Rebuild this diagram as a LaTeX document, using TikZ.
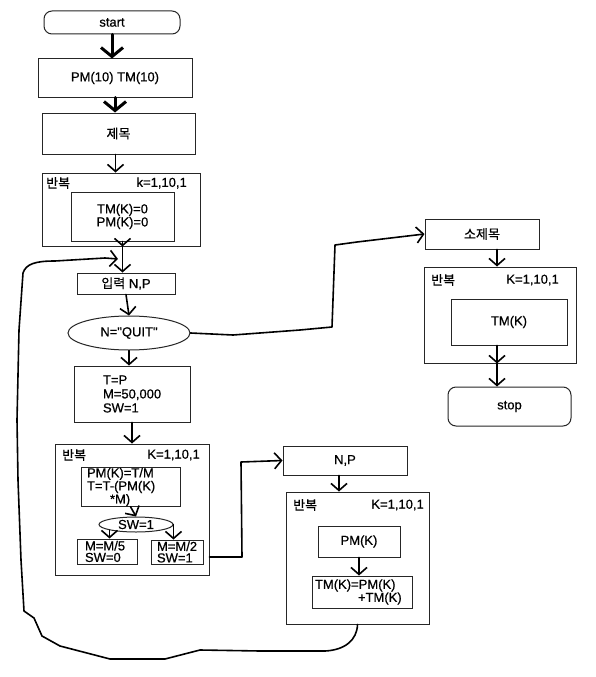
\documentclass[tikz,border=0pt]{standalone}
\usepackage{fontspec}
\setmainfont{Liberation Sans}[Ligatures=TeXOff, FakeBold=0.6]
\newfontfamily\kr{Noto Sans CJK KR}[FakeBold=0.4]
\usetikzlibrary{arrows.meta,shapes.geometric,calc}
\begin{document}
\begin{tikzpicture}[x=1pt,y=-1pt, font=\fontsize{13}{14}\selectfont,
 box/.style={draw=black!85, line width=1pt, rectangle, inner sep=0pt, align=center},
 term/.style={box, rounded corners=8pt},
 oval/.style={draw=black!85, line width=1pt, ellipse, inner sep=0pt},
 lbl/.style={inner sep=0pt},
 arr/.style={line width=1.6pt, -{Straight Barb[length=7pt,width=16pt]}, line join=round, line cap=round},
 bigarr/.style={line width=3pt, -{Straight Barb[length=9pt,width=22pt]}, line cap=round},
 ]
\useasboundingbox (0,0) rectangle (596,677);
\fill[white] (0,0) rectangle (596,677);

% left column
\node[term, minimum width=136pt, minimum height=23pt] (start) at (112,22.5) {start};
\node[box, minimum width=154pt, minimum height=38pt] (pm) at (115,78) {PM(10) TM(10)};
\node[box, minimum width=153pt, minimum height=41pt] (title) at (118.5,133.5) {\kr 제목};
\node[box, minimum width=158pt, minimum height=73pt] (loop1) at (121,209.5) {};
\node[lbl, anchor=west] (l1a) at (46,183) {\kr 반복};
\node[lbl, anchor=east] (l1b) at (187,183) {k=1,10,1};
\node[box, minimum width=103pt, minimum height=49pt, font=\fontsize{13}{11.5}\selectfont] (inner1) at (122.5,216.5) {TM(K)=0\\PM(K)=0};
\node[box, minimum width=98pt, minimum height=21pt] (input) at (126,283.5) {{\kr 입력} N,P};
\node[oval, minimum width=122pt, minimum height=34pt] (quit) at (129,333) {N="QUIT"};
\node[box, minimum width=116pt, minimum height=56pt, text width=58pt, align=left] (tp) at (132,394) {T=P\\M=50,000\\SW=1};
\node[box, minimum width=154pt, minimum height=131pt] (loop2) at (132,509.5) {};
\node[lbl, anchor=west] (l2a) at (62,455) {\kr 반복};
\node[lbl, anchor=east] (l2b) at (200,455) {K=1,10,1};
\node[box, minimum width=99pt, minimum height=38pt, text width=87pt, align=left, font=\fontsize{13}{12}\selectfont] (inner2) at (130.5,487) {PM(K)=T/M\\T=T-(PM(K)\\\hspace*{23pt}*M)};
\node[oval, minimum width=74pt, minimum height=15pt] (sw) at (136,524.5) {SW=1};
\node[box, minimum width=60pt, minimum height=25pt, text width=44pt, align=left, font=\fontsize{13}{11.5}\selectfont] (m5) at (107,551.5) {M=M/5\\SW=0};
\node[box, minimum width=52pt, minimum height=24pt, text width=40pt, align=left, font=\fontsize{13}{11.5}\selectfont] (m2) at (177,552) {M=M/2\\SW=1};

% middle column
\node[box, minimum width=124pt, minimum height=29pt] (np) at (345,460.5) {N,P};
\node[box, minimum width=143pt, minimum height=132pt] (loop3) at (357.5,558) {};
\node[lbl, anchor=west] (l3a) at (293,505) {\kr 반복};
\node[lbl, anchor=east] (l3b) at (424,505) {K=1,10,1};
\node[box, minimum width=82pt, minimum height=31pt] (pmk) at (359,541.5) {PM(K)};
\node[box, minimum width=100pt, minimum height=32pt, text width=94pt, align=left, font=\fontsize{13}{12}\selectfont] (tmk) at (362,592) {TM(K)=PM(K)\\\hspace*{43pt}+TM(K)};

% right column
\node[box, minimum width=114pt, minimum height=30pt] (sub) at (482,234) {\kr 소제목};
\node[box, minimum width=152pt, minimum height=96pt] (loop4) at (500,315) {};
\node[lbl, anchor=west] (l4a) at (431,280) {\kr 반복};
\node[lbl, anchor=east] (l4b) at (559,280) {K=1,10,1};
\node[box, minimum width=116pt, minimum height=46pt] (tm4) at (509,322) {TM(K)};
\node[term, minimum width=123pt, minimum height=39pt] (stop) at (509.5,406.5) {stop};

% connectors
\draw[bigarr] (start.south) -- (start.south |- pm.north);
\draw[bigarr] (pm.south) -- (pm.south |- title.north);
\draw[arr] ([xshift=-3pt]title.south) -- ([xshift=-3pt]title.south |- loop1.north);
\coordinate (l1bot) at (inner1.south |- loop1.south);
\draw[arr] (inner1.south) -- (l1bot);
\draw[arr] (l1bot) -- (l1bot |- input.north);
\coordinate (join) at (118,259);
\draw[arr] (loop3.south) .. controls (357,640) and (345,650) .. (325,651) -- (260,651) -- (200,650) -- (165,659) -- (110,659) -- (60,646) -- (42,636) -- (34,618) -- (24,611) -- (21,560) -- (18,480) -- (17,420) -- (19,330) -- (23,273) .. controls (26,264) and (35,261) .. (55,261) -- (105,258) -- (join);
\draw[arr] (input.south) -- (quit.north);
\draw[arr] (quit.east) -- (233,335) -- (300,330) -- (332,327) -- (335,245) -- (357,242) -- (sub.west);
\draw[arr] (quit.south) -- (quit.south |- tp.north);
\draw[arr] (tp.south) -- (tp.south |- loop2.north);
\draw[arr] (inner2.south) -- (sw.north);
\draw[arr] (sw.south west) -- (sw.south west |- m5.north);
\draw[arr] (sw.east) -- (sw.east |- m2.north);
\draw[arr] (loop2.east |- 0,557) -- (242,557) -- (241,462) -- (np.west);
\draw[arr] ([xshift=-6pt]np.south) -- ([xshift=-6pt]np.south |- loop3.north);
\draw[arr] (pmk.south) -- (pmk.south |- tmk.north);
\draw[arr] ([xshift=15pt]sub.south) -- ([xshift=15pt]sub.south |- loop4.north);
\coordinate (l4bot) at ([xshift=-12pt]tm4.south |- loop4.south);
\draw[arr] ([xshift=-12pt]tm4.south) -- (l4bot);
\draw[arr] (l4bot) -- (l4bot |- stop.north);
\end{tikzpicture}
\end{document}
